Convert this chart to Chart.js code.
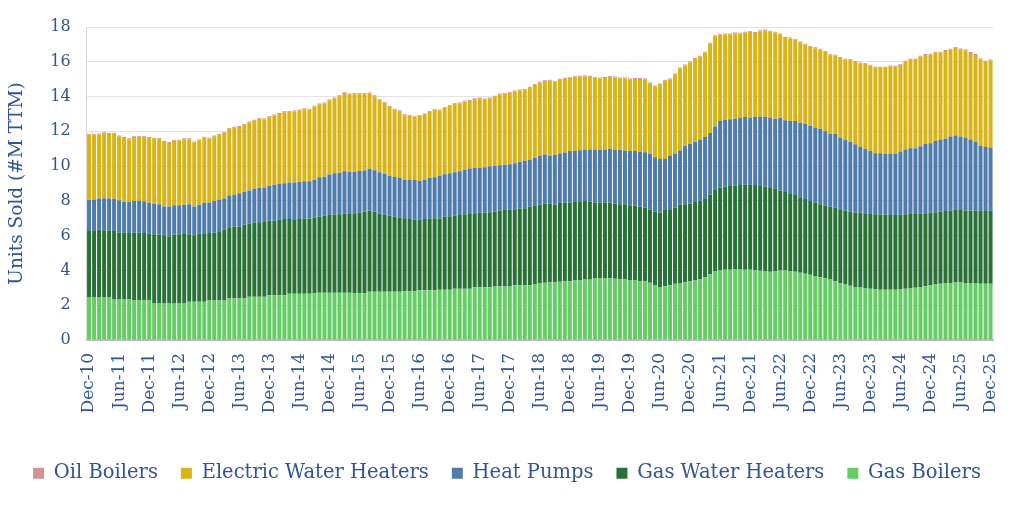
<!DOCTYPE html>
<html>
<head>
<meta charset="utf-8">
<script src="https://cdn.jsdelivr.net/npm/chart.js@4"></script>
<style>
html,body{margin:0;padding:0;background:#fff;}
#wrap{width:1024px;height:513px;position:relative;}
</style>
</head>
<body>
<div id="wrap"><canvas id="c" width="1024" height="513"></canvas></div>
<script>
const monthNames = ["Jan","Feb","Mar","Apr","May","Jun","Jul","Aug","Sep","Oct","Nov","Dec"];
const firstYear = 2010, firstMonth = 11, nMonths = 181;
const tickEvery = 6;
const yTicks = [0,2,4,6,8,10,12,14,16,18];

const gasBoilers = [
2.44,2.44,2.44,2.44,2.44,2.36,2.36,2.36,2.36,2.28,2.28,2.28,2.28,2.13,2.13,2.13,2.13,2.13,2.13,2.13,
2.19,2.19,2.19,2.19,2.26,2.26,2.26,2.26,2.38,2.38,2.38,2.38,2.49,2.49,2.49,2.49,2.57,2.57,2.57,2.57,
2.65,2.65,2.65,2.65,2.65,2.69,2.71,2.71,2.71,2.71,2.71,2.71,2.71,2.70,2.70,2.70,2.77,2.77,2.77,2.77,
2.77,2.77,2.77,2.80,2.80,2.80,2.86,2.86,2.86,2.86,2.88,2.88,2.88,2.94,2.94,2.94,2.94,3.03,3.03,3.03,
3.03,3.07,3.07,3.07,3.07,3.15,3.15,3.15,3.15,3.22,3.25,3.29,3.32,3.32,3.34,3.38,3.38,3.42,3.42,3.48,
3.48,3.54,3.54,3.54,3.54,3.52,3.48,3.48,3.44,3.44,3.38,3.38,3.29,3.13,3.05,3.09,3.15,3.23,3.27,3.30,
3.36,3.42,3.50,3.61,3.77,3.96,4.02,4.03,4.03,4.05,4.05,4.03,4.03,4.01,3.98,3.94,3.92,3.96,4.00,4.00,
3.96,3.92,3.86,3.81,3.75,3.67,3.61,3.55,3.48,3.36,3.27,3.19,3.11,3.05,3.01,2.98,2.94,2.92,2.88,2.88,
2.88,2.88,2.90,2.94,2.96,3.00,3.05,3.09,3.13,3.19,3.23,3.25,3.27,3.30,3.30,3.28,3.27,3.25,3.23,3.23,
3.23];

const gasWaterHeaters = [
3.87,3.87,3.89,3.87,3.86,3.91,3.82,3.80,3.79,3.89,3.88,3.87,3.82,3.95,3.94,3.85,3.83,3.93,3.95,3.96,
3.89,3.83,3.93,3.95,3.89,3.90,3.95,4.07,4.10,4.14,4.15,4.24,4.19,4.26,4.28,4.29,4.28,4.29,4.34,4.38,
4.30,4.29,4.31,4.32,4.33,4.35,4.37,4.43,4.47,4.49,4.52,4.56,4.54,4.55,4.63,4.67,4.66,4.60,4.50,4.43,
4.37,4.31,4.27,4.20,4.15,4.11,4.05,4.09,4.12,4.14,4.11,4.20,4.24,4.22,4.24,4.29,4.31,4.26,4.28,4.28,
4.32,4.32,4.36,4.40,4.43,4.37,4.41,4.43,4.51,4.53,4.54,4.56,4.51,4.45,4.53,4.51,4.51,4.51,4.55,4.51,
4.47,4.37,4.35,4.37,4.35,4.33,4.33,4.33,4.31,4.28,4.30,4.24,4.21,4.24,4.26,4.38,4.37,4.39,4.50,4.51,
4.49,4.51,4.50,4.49,4.58,4.70,4.75,4.78,4.82,4.82,4.86,4.90,4.90,4.90,4.87,4.89,4.86,4.76,4.58,4.51,
4.47,4.41,4.34,4.29,4.24,4.24,4.20,4.17,4.18,4.24,4.21,4.24,4.26,4.28,4.30,4.31,4.31,4.31,4.34,4.32,
4.30,4.30,4.32,4.29,4.29,4.25,4.22,4.20,4.18,4.16,4.16,4.16,4.18,4.17,4.17,4.17,4.18,4.18,4.20,4.18,
4.20];

const heatPumps = [
1.75,1.76,1.81,1.84,1.84,1.85,1.86,1.79,1.79,1.82,1.84,1.83,1.81,1.74,1.73,1.70,1.71,1.68,1.67,1.68,
1.73,1.66,1.65,1.75,1.76,1.83,1.85,1.81,1.83,1.83,1.90,1.89,1.92,1.95,1.98,1.99,2.00,2.07,2.06,2.06,
2.10,2.11,2.12,2.15,2.14,2.18,2.27,2.25,2.33,2.39,2.39,2.43,2.43,2.43,2.39,2.37,2.41,2.39,2.37,2.35,
2.31,2.29,2.28,2.22,2.25,2.29,2.23,2.27,2.34,2.35,2.44,2.45,2.47,2.48,2.52,2.55,2.61,2.60,2.60,2.62,
2.64,2.62,2.62,2.60,2.60,2.64,2.68,2.72,2.69,2.72,2.81,2.81,2.78,2.87,2.85,2.89,2.97,2.94,2.94,2.94,
3.00,3.04,3.04,3.04,3.10,3.08,3.12,3.09,3.12,3.15,3.16,3.18,3.20,3.14,3.09,2.94,3.09,3.08,3.13,3.36,
3.43,3.45,3.53,3.57,3.55,3.62,3.82,3.86,3.84,3.85,3.85,3.89,3.85,3.91,3.99,4.01,4.02,4.00,4.18,4.12,
4.16,4.26,4.29,4.32,4.31,4.31,4.34,4.29,4.20,4.24,4.15,4.10,4.03,3.93,3.78,3.70,3.61,3.51,3.52,3.50,
3.52,3.54,3.62,3.72,3.78,3.78,3.87,3.99,4.01,4.09,4.14,4.16,4.25,4.29,4.23,4.18,4.08,3.99,3.74,3.68,
3.64];

const electricWaterHeaters = [
3.75,3.74,3.68,3.74,3.71,3.74,3.67,3.67,3.61,3.68,3.68,3.69,3.71,3.76,3.77,3.71,3.66,3.72,3.72,3.78,
3.74,3.69,3.71,3.75,3.67,3.72,3.75,3.77,3.83,3.86,3.82,3.86,3.92,3.92,3.97,3.91,3.96,3.98,4.03,4.09,
4.07,4.09,4.12,4.15,4.13,4.20,4.20,4.21,4.27,4.30,4.40,4.50,4.44,4.46,4.44,4.42,4.34,4.26,4.15,4.09,
3.96,3.88,3.84,3.71,3.69,3.65,3.75,3.75,3.80,3.87,3.77,3.82,3.86,3.94,3.90,3.93,3.89,3.96,3.98,3.90,
3.90,3.99,4.07,4.09,4.10,4.14,4.11,4.09,4.16,4.19,4.20,4.23,4.30,4.19,4.25,4.25,4.22,4.25,4.23,4.23,
4.19,4.13,4.12,4.12,4.13,4.17,4.12,4.15,4.12,4.14,4.17,4.19,4.06,4.07,4.30,4.50,4.38,4.58,4.72,4.62,
4.69,4.78,4.77,4.86,5.15,5.19,4.96,4.91,4.89,4.92,4.86,4.86,4.94,4.84,4.92,4.96,4.94,4.96,4.82,4.74,
4.75,4.67,4.62,4.57,4.56,4.56,4.55,4.56,4.52,4.52,4.59,4.59,4.70,4.73,4.82,4.88,4.92,4.92,4.92,4.96,
5.04,5.00,4.97,5.06,5.09,5.09,5.16,5.11,5.09,5.09,5.00,5.05,5.00,5.04,5.02,5.03,4.98,4.97,4.97,4.92,
5.01];

const oilBoilers = [
0.05,0.05,0.05,0.05,0.05,0.05,0.05,0.05,0.05,0.05,0.05,0.05,0.05,0.05,0.05,0.05,0.05,0.05,0.05,0.05,
0.05,0.05,0.05,0.05,0.05,0.05,0.05,0.05,0.05,0.05,0.05,0.05,0.05,0.05,0.05,0.05,0.05,0.05,0.05,0.05,
0.05,0.05,0.05,0.05,0.05,0.05,0.05,0.05,0.05,0.05,0.05,0.05,0.05,0.05,0.05,0.05,0.05,0.05,0.05,0.05,
0.05,0.05,0.05,0.05,0.05,0.05,0.05,0.05,0.05,0.05,0.05,0.05,0.05,0.05,0.05,0.05,0.05,0.05,0.05,0.05,
0.05,0.05,0.05,0.05,0.05,0.05,0.05,0.05,0.05,0.05,0.05,0.05,0.05,0.05,0.05,0.05,0.05,0.05,0.05,0.05,
0.05,0.05,0.05,0.05,0.05,0.05,0.05,0.05,0.05,0.05,0.05,0.05,0.05,0.05,0.05,0.05,0.05,0.05,0.05,0.05,
0.05,0.05,0.05,0.05,0.05,0.05,0.05,0.05,0.05,0.05,0.05,0.05,0.05,0.05,0.05,0.05,0.05,0.05,0.05,0.05,
0.05,0.05,0.05,0.05,0.05,0.05,0.05,0.05,0.05,0.05,0.05,0.05,0.05,0.05,0.05,0.05,0.05,0.05,0.05,0.05,
0.05,0.05,0.05,0.05,0.05,0.05,0.05,0.05,0.05,0.05,0.05,0.05,0.05,0.05,0.05,0.05,0.05,0.05,0.05,0.05,
0.05];

const categories = [];
for (let i = 0; i < nMonths; i++) {
  const m = (firstMonth + i) % 12;
  const y = firstYear + Math.floor((firstMonth + i) / 12);
  categories.push(monthNames[m] + "-" + String(y % 100).padStart(2, "0"));
}

const FONT = "'DejaVu Serif', serif";
const TXT = "#2F5597";

new Chart(document.getElementById("c"), {
  type: "bar",
  data: {
    labels: categories,
    datasets: [
      {label: "Gas Boilers", data: gasBoilers, backgroundColor: "#66CC66"},
      {label: "Gas Water Heaters", data: gasWaterHeaters, backgroundColor: "#2A7138"},
      {label: "Heat Pumps", data: heatPumps, backgroundColor: "#4F7BAD"},
      {label: "Electric Water Heaters", data: electricWaterHeaters, backgroundColor: "#D8B418"},
      {label: "Oil Boilers", data: oilBoilers, backgroundColor: "#D39391"}
    ]
  },
  options: {
    responsive: false,
    animation: false,
    devicePixelRatio: 1,
    layout: {padding: {left: 6, right: 16, top: 27, bottom: 20}},
    datasets: {bar: {barPercentage: 0.8, categoryPercentage: 1.0}},
    plugins: {
      tooltip: {enabled: false},
      legend: {
        position: "bottom",
        reverse: true,
        labels: {
          color: TXT,
          font: {family: FONT, size: 19.5},
          boxWidth: 11,
          boxHeight: 11,
          padding: 23
        }
      }
    },
    scales: {
      x: {
        stacked: true,
        afterFit: function(axis) { axis.height += 14; },
        grid: {display: false, drawTicks: false},
        border: {display: true, color: "#BFBFBF", width: 2},
        ticks: {
          autoSkip: false,
          maxRotation: 90,
          minRotation: 90,
          padding: 13,
          color: TXT,
          font: {family: FONT, size: 17},
          callback: function(v, i) { return i % tickEvery === 0 ? categories[i] : ""; }
        }
      },
      y: {
        stacked: true,
        min: 0,
        max: 18,
        afterBuildTicks: function(axis) { axis.ticks = yTicks.map(v => ({value: v})); },
        grid: {color: "#E3E3E3", drawTicks: false},
        border: {display: true, color: "#D9D9D9", width: 1},
        ticks: {
          padding: 16,
          color: TXT,
          font: {family: FONT, size: 16}
        },
        title: {
          display: true,
          text: "Units Sold (#M TTM)",
          color: TXT,
          font: {family: FONT, size: 18.5},
          padding: {top: 0, bottom: 6}
        }
      }
    }
  }
});
</script>
</body>
</html>
